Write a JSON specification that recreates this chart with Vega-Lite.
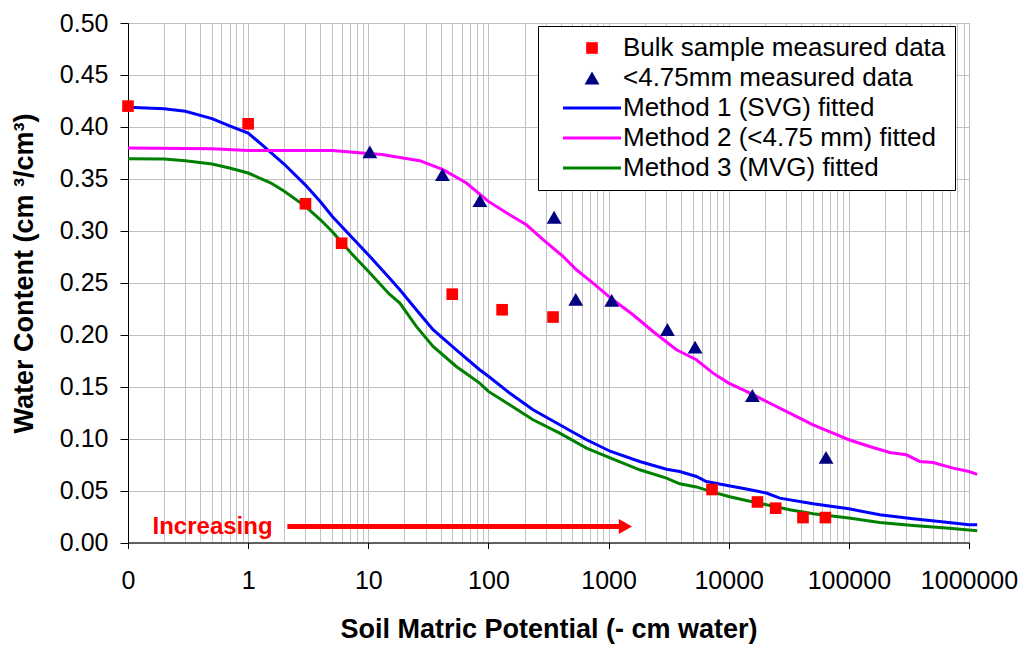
{
  "$schema": "https://vega.github.io/schema/vega-lite/v6.json",
  "width": 841,
  "height": 519.5,
  "autosize": {"type": "none"},
  "padding": {"left": 128, "top": 23, "right": 57, "bottom": 102},
  "background": "white",
  "config": {
    "font": "Liberation Sans",
    "view": {"stroke": "#808080", "strokeWidth": 1},
    "axis": {
      "domainColor": "#000000",
      "domainWidth": 1,
      "tickColor": "#000000",
      "gridColor": "#c0c0c0",
      "gridWidth": 1,
      "labelColor": "#000000",
      "titleColor": "#000000",
      "labelFont": "Liberation Sans",
      "titleFont": "Liberation Sans",
      "labelFontSize": 25,
      "titleFontSize": 27,
      "titleFontWeight": "bold"
    }
  },
  "datasets": {
    "curves": [
      {"series": "Method 1 (SVG) fitted", "x": 0.1, "y": 0.419},
      {"series": "Method 1 (SVG) fitted", "x": 0.2, "y": 0.4175},
      {"series": "Method 1 (SVG) fitted", "x": 0.3, "y": 0.415},
      {"series": "Method 1 (SVG) fitted", "x": 0.5, "y": 0.408},
      {"series": "Method 1 (SVG) fitted", "x": 0.7, "y": 0.401},
      {"series": "Method 1 (SVG) fitted", "x": 1, "y": 0.394},
      {"series": "Method 1 (SVG) fitted", "x": 1.3, "y": 0.383},
      {"series": "Method 1 (SVG) fitted", "x": 2, "y": 0.364},
      {"series": "Method 1 (SVG) fitted", "x": 3, "y": 0.344},
      {"series": "Method 1 (SVG) fitted", "x": 4, "y": 0.328},
      {"series": "Method 1 (SVG) fitted", "x": 5, "y": 0.314},
      {"series": "Method 1 (SVG) fitted", "x": 7, "y": 0.296},
      {"series": "Method 1 (SVG) fitted", "x": 10, "y": 0.277},
      {"series": "Method 1 (SVG) fitted", "x": 15, "y": 0.2545},
      {"series": "Method 1 (SVG) fitted", "x": 18.3, "y": 0.2433},
      {"series": "Method 1 (SVG) fitted", "x": 25.1, "y": 0.224},
      {"series": "Method 1 (SVG) fitted", "x": 34.6, "y": 0.2048},
      {"series": "Method 1 (SVG) fitted", "x": 54, "y": 0.1855},
      {"series": "Method 1 (SVG) fitted", "x": 84.5, "y": 0.1663},
      {"series": "Method 1 (SVG) fitted", "x": 100, "y": 0.16},
      {"series": "Method 1 (SVG) fitted", "x": 150, "y": 0.1438},
      {"series": "Method 1 (SVG) fitted", "x": 235, "y": 0.1277},
      {"series": "Method 1 (SVG) fitted", "x": 392, "y": 0.1133},
      {"series": "Method 1 (SVG) fitted", "x": 655, "y": 0.0989},
      {"series": "Method 1 (SVG) fitted", "x": 1042, "y": 0.0876},
      {"series": "Method 1 (SVG) fitted", "x": 1815, "y": 0.078},
      {"series": "Method 1 (SVG) fitted", "x": 3034, "y": 0.0705},
      {"series": "Method 1 (SVG) fitted", "x": 3909, "y": 0.0683},
      {"series": "Method 1 (SVG) fitted", "x": 5380, "y": 0.0635},
      {"series": "Method 1 (SVG) fitted", "x": 6510, "y": 0.0587},
      {"series": "Method 1 (SVG) fitted", "x": 10000, "y": 0.0546},
      {"series": "Method 1 (SVG) fitted", "x": 14030, "y": 0.0514},
      {"series": "Method 1 (SVG) fitted", "x": 20590, "y": 0.0476},
      {"series": "Method 1 (SVG) fitted", "x": 26600, "y": 0.0427},
      {"series": "Method 1 (SVG) fitted", "x": 50400, "y": 0.0373},
      {"series": "Method 1 (SVG) fitted", "x": 100000, "y": 0.0324},
      {"series": "Method 1 (SVG) fitted", "x": 180700, "y": 0.0267},
      {"series": "Method 1 (SVG) fitted", "x": 342000, "y": 0.0228},
      {"series": "Method 1 (SVG) fitted", "x": 648000, "y": 0.0196},
      {"series": "Method 1 (SVG) fitted", "x": 1000000, "y": 0.017},
      {"series": "Method 1 (SVG) fitted", "x": 1170000, "y": 0.017},
      {"series": "Method 2 (<4.75 mm) fitted", "x": 0.1, "y": 0.3797},
      {"series": "Method 2 (<4.75 mm) fitted", "x": 0.5, "y": 0.379},
      {"series": "Method 2 (<4.75 mm) fitted", "x": 1, "y": 0.3774},
      {"series": "Method 2 (<4.75 mm) fitted", "x": 5, "y": 0.3774},
      {"series": "Method 2 (<4.75 mm) fitted", "x": 10, "y": 0.3745},
      {"series": "Method 2 (<4.75 mm) fitted", "x": 13, "y": 0.3735},
      {"series": "Method 2 (<4.75 mm) fitted", "x": 18.3, "y": 0.3705},
      {"series": "Method 2 (<4.75 mm) fitted", "x": 26.8, "y": 0.3675},
      {"series": "Method 2 (<4.75 mm) fitted", "x": 41.9, "y": 0.3588},
      {"series": "Method 2 (<4.75 mm) fitted", "x": 65.6, "y": 0.346},
      {"series": "Method 2 (<4.75 mm) fitted", "x": 100, "y": 0.3283},
      {"series": "Method 2 (<4.75 mm) fitted", "x": 150, "y": 0.3155},
      {"series": "Method 2 (<4.75 mm) fitted", "x": 207, "y": 0.3058},
      {"series": "Method 2 (<4.75 mm) fitted", "x": 285, "y": 0.2914},
      {"series": "Method 2 (<4.75 mm) fitted", "x": 418, "y": 0.2753},
      {"series": "Method 2 (<4.75 mm) fitted", "x": 540, "y": 0.2625},
      {"series": "Method 2 (<4.75 mm) fitted", "x": 743, "y": 0.2497},
      {"series": "Method 2 (<4.75 mm) fitted", "x": 1042, "y": 0.2353},
      {"series": "Method 2 (<4.75 mm) fitted", "x": 1597, "y": 0.2192},
      {"series": "Method 2 (<4.75 mm) fitted", "x": 2344, "y": 0.2031},
      {"series": "Method 2 (<4.75 mm) fitted", "x": 3670, "y": 0.1855},
      {"series": "Method 2 (<4.75 mm) fitted", "x": 5380, "y": 0.1759},
      {"series": "Method 2 (<4.75 mm) fitted", "x": 7400, "y": 0.163},
      {"series": "Method 2 (<4.75 mm) fitted", "x": 10000, "y": 0.1534},
      {"series": "Method 2 (<4.75 mm) fitted", "x": 14030, "y": 0.1454},
      {"series": "Method 2 (<4.75 mm) fitted", "x": 20590, "y": 0.1357},
      {"series": "Method 2 (<4.75 mm) fitted", "x": 32200, "y": 0.1246},
      {"series": "Method 2 (<4.75 mm) fitted", "x": 50400, "y": 0.1133},
      {"series": "Method 2 (<4.75 mm) fitted", "x": 73900, "y": 0.1053},
      {"series": "Method 2 (<4.75 mm) fitted", "x": 100000, "y": 0.0989},
      {"series": "Method 2 (<4.75 mm) fitted", "x": 149000, "y": 0.0924},
      {"series": "Method 2 (<4.75 mm) fitted", "x": 219000, "y": 0.0866},
      {"series": "Method 2 (<4.75 mm) fitted", "x": 301000, "y": 0.0844},
      {"series": "Method 2 (<4.75 mm) fitted", "x": 389000, "y": 0.078},
      {"series": "Method 2 (<4.75 mm) fitted", "x": 502000, "y": 0.077},
      {"series": "Method 2 (<4.75 mm) fitted", "x": 737000, "y": 0.0716},
      {"series": "Method 2 (<4.75 mm) fitted", "x": 1000000, "y": 0.0683},
      {"series": "Method 2 (<4.75 mm) fitted", "x": 1170000, "y": 0.0655},
      {"series": "Method 3 (MVG) fitted", "x": 0.1, "y": 0.3694},
      {"series": "Method 3 (MVG) fitted", "x": 0.2, "y": 0.369},
      {"series": "Method 3 (MVG) fitted", "x": 0.3, "y": 0.3674},
      {"series": "Method 3 (MVG) fitted", "x": 0.5, "y": 0.3642},
      {"series": "Method 3 (MVG) fitted", "x": 0.7, "y": 0.3604},
      {"series": "Method 3 (MVG) fitted", "x": 1, "y": 0.3556},
      {"series": "Method 3 (MVG) fitted", "x": 1.55, "y": 0.346},
      {"series": "Method 3 (MVG) fitted", "x": 2, "y": 0.338},
      {"series": "Method 3 (MVG) fitted", "x": 3, "y": 0.3235},
      {"series": "Method 3 (MVG) fitted", "x": 4, "y": 0.3106},
      {"series": "Method 3 (MVG) fitted", "x": 5, "y": 0.2994},
      {"series": "Method 3 (MVG) fitted", "x": 7, "y": 0.28},
      {"series": "Method 3 (MVG) fitted", "x": 10, "y": 0.261},
      {"series": "Method 3 (MVG) fitted", "x": 15, "y": 0.239},
      {"series": "Method 3 (MVG) fitted", "x": 18.3, "y": 0.2304},
      {"series": "Method 3 (MVG) fitted", "x": 25.1, "y": 0.208},
      {"series": "Method 3 (MVG) fitted", "x": 34.6, "y": 0.1887},
      {"series": "Method 3 (MVG) fitted", "x": 54, "y": 0.1694},
      {"series": "Method 3 (MVG) fitted", "x": 84.5, "y": 0.1534},
      {"series": "Method 3 (MVG) fitted", "x": 100, "y": 0.1454},
      {"series": "Method 3 (MVG) fitted", "x": 150, "y": 0.1326},
      {"series": "Method 3 (MVG) fitted", "x": 235, "y": 0.1181},
      {"series": "Method 3 (MVG) fitted", "x": 392, "y": 0.1053},
      {"series": "Method 3 (MVG) fitted", "x": 655, "y": 0.0909},
      {"series": "Method 3 (MVG) fitted", "x": 1042, "y": 0.0812},
      {"series": "Method 3 (MVG) fitted", "x": 1815, "y": 0.07},
      {"series": "Method 3 (MVG) fitted", "x": 3034, "y": 0.062},
      {"series": "Method 3 (MVG) fitted", "x": 3909, "y": 0.0565},
      {"series": "Method 3 (MVG) fitted", "x": 5380, "y": 0.0535},
      {"series": "Method 3 (MVG) fitted", "x": 7400, "y": 0.0485},
      {"series": "Method 3 (MVG) fitted", "x": 10000, "y": 0.0443},
      {"series": "Method 3 (MVG) fitted", "x": 14030, "y": 0.0404},
      {"series": "Method 3 (MVG) fitted", "x": 20590, "y": 0.0363},
      {"series": "Method 3 (MVG) fitted", "x": 32200, "y": 0.0315},
      {"series": "Method 3 (MVG) fitted", "x": 50400, "y": 0.0276},
      {"series": "Method 3 (MVG) fitted", "x": 100000, "y": 0.0235},
      {"series": "Method 3 (MVG) fitted", "x": 180700, "y": 0.0193},
      {"series": "Method 3 (MVG) fitted", "x": 342000, "y": 0.0164},
      {"series": "Method 3 (MVG) fitted", "x": 648000, "y": 0.0139},
      {"series": "Method 3 (MVG) fitted", "x": 1170000, "y": 0.0113}
    ],
    "measured": [
      {"series": "Bulk sample measured data", "x": 0.1, "y": 0.42},
      {"series": "Bulk sample measured data", "x": 1, "y": 0.403},
      {"series": "Bulk sample measured data", "x": 3, "y": 0.326},
      {"series": "Bulk sample measured data", "x": 6, "y": 0.288},
      {"series": "Bulk sample measured data", "x": 50, "y": 0.239},
      {"series": "Bulk sample measured data", "x": 130, "y": 0.224},
      {"series": "Bulk sample measured data", "x": 345, "y": 0.217},
      {"series": "Bulk sample measured data", "x": 7260, "y": 0.051},
      {"series": "Bulk sample measured data", "x": 17350, "y": 0.039},
      {"series": "Bulk sample measured data", "x": 24600, "y": 0.033},
      {"series": "Bulk sample measured data", "x": 41500, "y": 0.024},
      {"series": "Bulk sample measured data", "x": 63800, "y": 0.024},
      {"series": "<4.75mm measured data", "x": 10.3, "y": 0.376},
      {"series": "<4.75mm measured data", "x": 41.4, "y": 0.354},
      {"series": "<4.75mm measured data", "x": 85, "y": 0.329},
      {"series": "<4.75mm measured data", "x": 352, "y": 0.313},
      {"series": "<4.75mm measured data", "x": 533, "y": 0.234},
      {"series": "<4.75mm measured data", "x": 1062, "y": 0.233},
      {"series": "<4.75mm measured data", "x": 3090, "y": 0.205},
      {"series": "<4.75mm measured data", "x": 5250, "y": 0.188},
      {"series": "<4.75mm measured data", "x": 15740, "y": 0.1415},
      {"series": "<4.75mm measured data", "x": 64600, "y": 0.082}
    ],
    "arrow": [{"x": 2.12, "x2": 1250, "y": 0.0154}],
    "arrowhead": [{"x": 1380, "y": 0.0154}],
    "note": [{"x": 0.16, "y": 0.0145, "label": "Increasing"}]
  },
  "encoding": {
    "x": {
      "field": "x",
      "type": "quantitative",
      "scale": {"type": "log", "domain": [0.1, 1000000], "nice": false},
      "axis": {
        "title": "Soil Matric Potential (- cm water)",
        "values": [0.1,0.2,0.3,0.4,0.5,0.6,0.7,0.8,0.9,1,2,3,4,5,6,7,8,9,10,20,30,40,50,60,70,80,90,100,200,300,400,500,600,700,800,900,1000,2000,3000,4000,5000,6000,7000,8000,9000,10000,20000,30000,40000,50000,60000,70000,80000,90000,100000,200000,300000,400000,500000,600000,700000,800000,900000,1000000],
        "labelExpr": "datum.value == 0.1 ? '0' : (indexof([1,10,100,1000,10000,100000,1000000], datum.value) >= 0 ? format(datum.value, 'd') : '')",
        "tickOpacity": {"condition": {"test": "indexof([0.1,1,10,100,1000,10000,100000,1000000], datum.value) >= 0", "value": 1}, "value": 0},
        "labelOverlap": false,
        "labelFlush": false,
        "labelBound": false,
        "grid": true,
        "tickSize": 6,
        "labelPadding": 20,
        "titlePadding": 23
      }
    },
    "y": {
      "field": "y",
      "type": "quantitative",
      "scale": {"domain": [0, 0.5], "nice": false},
      "axis": {
        "title": "Water Content (cm ³/cm³)",
        "values": [0,0.05,0.1,0.15,0.2,0.25,0.3,0.35,0.4,0.45,0.5],
        "format": ".2f",
        "grid": true,
        "tickSize": 8,
        "labelPadding": 12,
        "titleX": -90,
        "titleY": 250
      }
    }
  },
  "layer": [
    {
      "data": {"name": "curves"},
      "mark": {"type": "line", "strokeWidth": 3},
      "encoding": {
        "color": {
          "field": "series",
          "type": "nominal",
          "scale": {
            "domain": ["Bulk sample measured data", "<4.75mm measured data", "Method 1 (SVG) fitted", "Method 2 (<4.75 mm) fitted", "Method 3 (MVG) fitted"],
            "range": ["#ff0000", "#000080", "#0000ff", "#ff00ff", "#008000"]
          },
          "legend": {
            "title": null,
            "orient": "none",
            "legendX": 410,
            "legendY": 3,
            "fillColor": "white",
            "strokeColor": "#000000",
            "padding": 9,
            "labelFont": "Liberation Sans",
            "labelFontSize": 26,
            "labelColor": "#000000",
            "labelLimit": 600,
            "labelExpr": "datum.label + ' '",
            "symbolSize": 135,
            "symbolOffset": 32,
            "labelOffset": 18,
            "rowPadding": 4,
            "encode": {
              "symbols": {
                "update": {
                  "stroke": {"scale": "color", "field": "value"},
                  "fill": {"scale": "color", "field": "value"},
                  "strokeWidth": {"signal": "datum.value == 'Bulk sample measured data' || datum.value == '<4.75mm measured data' ? 0 : 3"},
                  "size": {"signal": "datum.value == '<4.75mm measured data' ? 220 : 135"},
                  "opacity": {"value": 1}
                }
              }
            }
          }
        }
      }
    },
    {
      "data": {"name": "measured"},
      "mark": {"type": "point", "filled": true, "opacity": 1},
      "encoding": {
        "size": {"condition": {"test": "datum.series == '<4.75mm measured data'", "value": 220}, "value": 135},
        "color": {
          "field": "series",
          "type": "nominal",
          "scale": {
            "domain": ["Bulk sample measured data", "<4.75mm measured data", "Method 1 (SVG) fitted", "Method 2 (<4.75 mm) fitted", "Method 3 (MVG) fitted"],
            "range": ["#ff0000", "#000080", "#0000ff", "#ff00ff", "#008000"]
          }
        },
        "shape": {
          "field": "series",
          "type": "nominal",
          "scale": {
            "domain": ["Bulk sample measured data", "<4.75mm measured data", "Method 1 (SVG) fitted", "Method 2 (<4.75 mm) fitted", "Method 3 (MVG) fitted"],
            "range": ["square", "triangle-up", "M-5,0L5,0", "M-5,0L5,0", "M-5,0L5,0"]
          },
          "legend": {"title": null}
        }
      }
    },
    {
      "data": {"name": "arrow"},
      "mark": {"type": "rule", "color": "#ff0000", "strokeWidth": 5},
      "encoding": {"x2": {"field": "x2"}}
    },
    {
      "data": {"name": "arrowhead"},
      "mark": {"type": "point", "shape": "triangle-right", "filled": true, "color": "#ff0000", "opacity": 1, "size": 230}
    },
    {
      "data": {"name": "note"},
      "mark": {"type": "text", "align": "left", "baseline": "middle", "color": "#ff0000", "font": "Liberation Sans", "fontSize": 24, "fontWeight": "bold"},
      "encoding": {"text": {"field": "label"}}
    }
  ]
}
